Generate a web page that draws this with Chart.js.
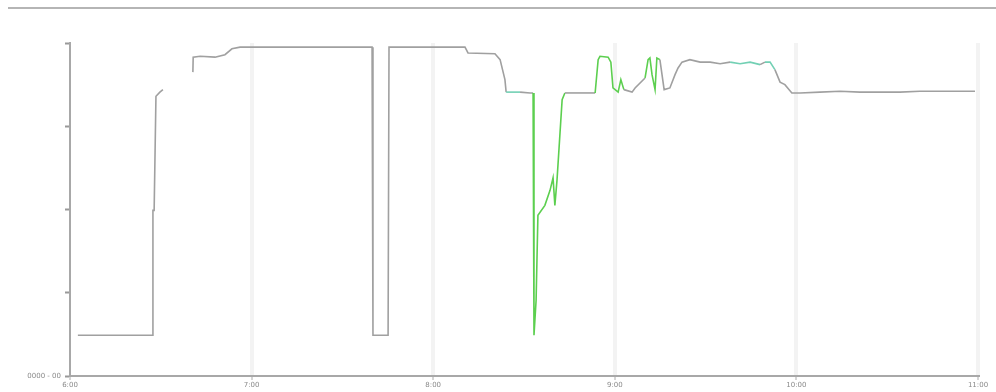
<!DOCTYPE html>
<html>
<head>
<meta charset="utf-8">
<script src="https://cdn.jsdelivr.net/npm/chart.js@4/dist/chart.umd.min.js"></script>
<style>
html,body{margin:0;padding:0;background:#fff;}
#wrap{position:relative;width:996px;height:392px;}
#topline{position:absolute;left:8px;top:7px;width:988px;height:0;border-top:2px solid #b5b5b5;}
canvas{position:absolute;left:0;top:0;}
</style>
</head>
<body>
<div id="wrap">
<div id="topline"></div>
<canvas id="c" width="996" height="392"></canvas>
</div>
<script>
// minutes after 6:00
const minutes = [2.6,27.1,27.4,27.8,28.4,29.7,30.7,35.0,40.6,40.7,43.0,47.9,51.2,53.5,56.2,76.0,99.1,99.8,100.1,105.1,105.4,109.0,130.5,131.5,140.4,142.1,143.7,144.1,148.7,152.0,153.0,153.3,154.0,154.6,156.9,158.6,159.6,160.2,160.9,162.6,163.5,173.5,174.5,175.1,177.8,178.7,179.4,181.1,182.0,183.0,185.7,186.7,190.0,191.0,191.6,192.3,193.3,193.9,194.9,196.3,198.2,199.9,200.9,202.2,204.8,208.2,211.5,214.8,218.1,221.4,224.7,228.0,229.6,231.3,232.9,234.6,236.2,238.5,241.2,247.8,254.4,261.0,267.6,274.2,280.8,287.4,294.1,299.0];
const values = [0.49,0.49,1.99,1.99,3.36,3.41,3.44,null,3.65,3.83,3.84,3.83,3.86,3.93,3.95,3.95,3.95,3.95,0.49,0.49,3.95,3.95,3.95,3.88,3.87,3.80,3.56,3.41,3.41,3.40,3.40,0.49,0.91,1.93,2.05,2.23,2.38,2.05,2.35,3.32,3.40,3.40,3.80,3.84,3.83,3.77,3.46,3.41,3.56,3.44,3.41,3.46,3.58,3.80,3.82,3.62,3.44,3.82,3.80,3.44,3.46,3.62,3.70,3.77,3.80,3.77,3.77,3.75,3.77,3.75,3.77,3.74,3.77,3.77,3.68,3.53,3.50,3.40,3.40,3.41,3.42,3.41,3.41,3.41,3.42,3.42,3.42,3.42];
// 0 = grey, 1 = green, 2 = teal (segment starting at this point)
const status = [0,0,0,0,0,0,0,0,0,0,0,0,0,0,0,0,0,0,0,0,0,0,0,0,0,0,0,2,0,0,1,1,1,1,1,1,1,1,1,1,0,1,1,1,1,1,1,1,1,0,0,0,1,1,1,1,1,1,0,0,0,0,0,0,0,0,0,0,2,2,2,0,2,2,0,0,0,0,0,0,0,0,0,0,0,0,0,0];
const tickMinutes = [0,60,120,180,240,300];
const tickLabels = ["6:00","7:00","8:00","9:00","10:00","11:00"];
const yTickLabels = ["0000 - 00","","","",""];
const statusColors = ["#a0a0a0","#5ccf4f","#72d0b4"];

const pts = minutes.map((m,i)=>({x:m,y:values[i]}));
new Chart(document.getElementById('c'),{
  type:'line',
  data:{datasets:[{
    data:pts,
    borderColor:'#a0a0a0',
    borderWidth:1.6,
    pointRadius:0,
    tension:0,
    spanGaps:false,
    segment:{borderColor:ctx=>statusColors[status[ctx.p0DataIndex]]}
  }]},
  options:{
    responsive:false,animation:false,
    layout:{padding:{top:43,right:18,left:0,bottom:0}},
    plugins:{legend:{display:false},tooltip:{enabled:false}},
    scales:{
      x:{type:'linear',min:0,max:300,
        afterBuildTicks:s=>{s.ticks=tickMinutes.map(v=>({value:v}));},
        afterFit:s=>{s.height=16;},
        ticks:{callback:(v)=>{const i=tickMinutes.indexOf(v);return i>=0?tickLabels[i]:'';},
          font:{size:7,family:'DejaVu Sans'},color:'#8a8a8a',padding:1,maxRotation:0,autoSkip:false},
        grid:{color:(c)=>c.index===0?'rgba(0,0,0,0)':'#f3f3f3',lineWidth:4,tickColor:'#aaa',tickLength:4,tickWidth:1},
        border:{display:true,color:'#a8a8a8',width:2}
      },
      y:{min:0,max:4,
        afterBuildTicks:s=>{s.ticks=[0,1,2,3,4].map(v=>({value:v}));},
        afterFit:s=>{s.width=70;},
        ticks:{callback:(v)=>yTickLabels[v]||'',font:{size:7,family:'DejaVu Sans'},color:'#8a8a8a',padding:4},
        grid:{drawOnChartArea:false,tickColor:'#999',tickLength:5,tickWidth:2},
        border:{display:true,color:'#a8a8a8',width:2}
      }
    }
  }
});
</script>
</body>
</html>
